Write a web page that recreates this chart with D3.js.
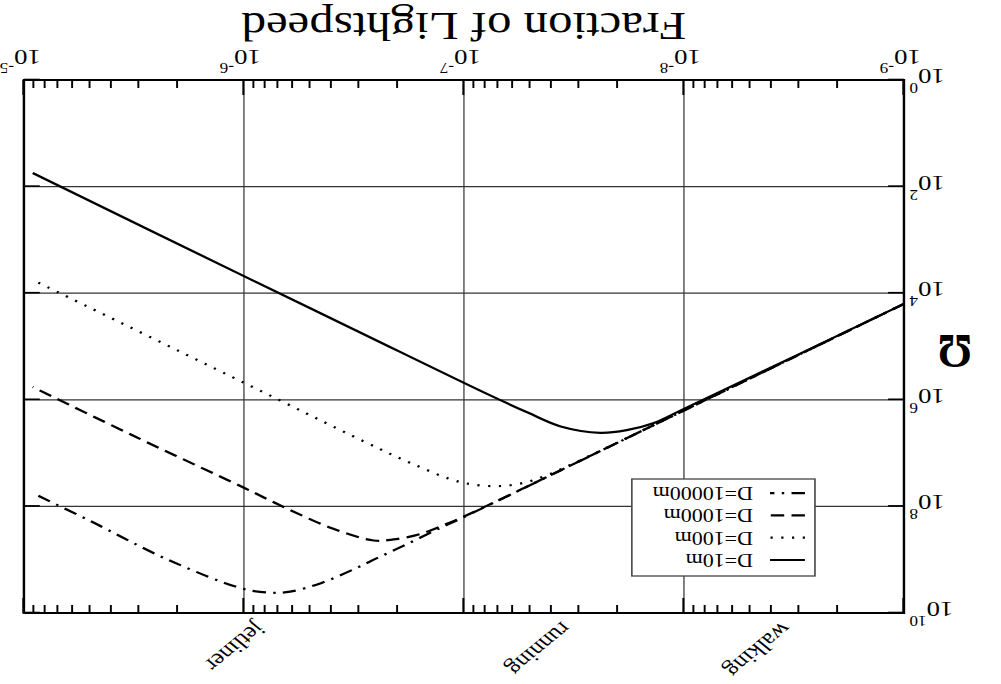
<!DOCTYPE html>
<html>
<head>
<meta charset="utf-8">
<script src="https://cdn.jsdelivr.net/npm/d3@7"></script>
<style>
  body { margin: 0; background: #fff; }
  text { font-family: "Liberation Serif", "Times New Roman", serif; fill: #000; }
</style>
</head>
<body>
<script>
// the reference is stretched sideways (~1.22) and turned upside down,
// so draw in an 820 wide box, stretch with the viewBox and rotate 180
var W = 820, H = 684;

// axis ticks
var speedExp = [-9, -8, -7, -6, -5];
var omegaExp = [0, 2, 4, 6, 8, 10];

// markers on the top axis (fraction of lightspeed)
var places = ["walking", "running", "jetliner"];
var placeSpeeds = [3.6e-9, 3.6e-8, 8.9e-7];

var seriesNames = ["D=10m", "D=100m", "D=1000m", "D=10000m"];
var seriesDash = ["", "1.8,7", "11,6", "11,6,2,6"];

// curves, in decades: log10(v/c) and log10(Omega)
var logV10 = [-9, -8.5, -8.0, -7.86, -7.74, -7.62, -7.44, -7.29, -7.1, -6.5, -6.0, -5.04];
var logW10 = [4.2, 5.19, 6.17, 6.44, 6.57, 6.62, 6.5, 6.24, 5.88, 4.68, 3.68, 1.745];

var logV100 = [-9, -8.5, -8, -7.5, -7.38, -7.27, -7.14, -6.98, -6.76, -6.55, -6.0, -5.04];
var logW100 = [4.2, 5.2, 6.2, 7.19, 7.41, 7.56, 7.62, 7.54, 7.19, 6.79, 5.68, 3.75];

var logV1000 = [-9, -8, -7.0, -6.92, -6.8, -6.68, -6.59, -6.4, -6.18, -6.0, -5.5, -5.04];
var logW1000 = [4.2, 6.2, 8.19, 8.33, 8.52, 8.62, 8.64, 8.41, 8.01, 7.65, 6.68, 5.76];

var logV10000 = [-9, -8, -7, -6.89, -6.74, -6.6, -6.52, -6.35, -6.21, -6.13, -6.0, -5.66, -5.3, -5.04];
var logW10000 = [4.2, 6.2, 8.2, 8.41, 8.71, 8.98, 9.14, 9.44, 9.6, 9.62, 9.55, 9.01, 8.27, 7.75];

var seriesV = [logV10, logV100, logV1000, logV10000];
var seriesW = [logW10, logW100, logW1000, logW10000];

// plot box
var pLeft = 79.5, pRight = 800.4, pTop = 71, pBottom = 604;

var x = d3.scaleLog().domain([1e-9, 1e-5]).range([pLeft, pRight]);
var y = d3.scaleLog().domain([1, 1e10]).range([pBottom, pTop]);

var svg = d3.select("body").append("svg")
    .attr("width", 1001)
    .attr("height", H)
    .attr("viewBox", "0 0 " + W + " " + H)
    .attr("preserveAspectRatio", "none");

var g = svg.append("g")
    .attr("transform", "rotate(180 " + W / 2 + " " + H / 2 + ")");

var majorX = speedExp.map(function(e) { return Math.pow(10, e); });
var majorY = omegaExp.map(function(e) { return Math.pow(10, e); });
var minorX = [];
speedExp.slice(0, -1).forEach(function(e) {
  for (var k = 2; k <= 9; k++) minorX.push(k * Math.pow(10, e));
});

// grid
g.append("g").selectAll("line")
    .data(majorX.slice(1, -1))
  .enter().append("line")
    .attr("x1", function(d) { return x(d); })
    .attr("x2", function(d) { return x(d); })
    .attr("y1", pTop).attr("y2", pBottom)
    .attr("stroke", "#555").attr("stroke-width", 1.2);

g.append("g").selectAll("line")
    .data(majorY.slice(1, -1))
  .enter().append("line")
    .attr("y1", function(d) { return y(d); })
    .attr("y2", function(d) { return y(d); })
    .attr("x1", pLeft).attr("x2", pRight)
    .attr("stroke", "#333").attr("stroke-width", 1.2);

// curves
var line = d3.line()
    .x(function(d) { return x(d[0]); })
    .y(function(d) { return y(d[1]); })
    .curve(d3.curveCatmullRom);

seriesV.forEach(function(lv, i) {
  var pts = lv.map(function(v, j) { return [Math.pow(10, v), Math.pow(10, seriesW[i][j])]; });
  g.append("path")
      .datum(pts)
      .attr("d", line)
      .attr("fill", "none")
      .attr("stroke", "#000")
      .attr("stroke-width", 2.2)
      .attr("stroke-dasharray", seriesDash[i] || null);
});

// ticks, pointing inward on all four sides
function ticks(sel) {
  sel.select(".domain").remove();
  sel.selectAll("line").attr("stroke", "#000").attr("stroke-width", 1.6);
}
g.append("g").attr("transform", "translate(0," + pBottom + ")")
    .call(d3.axisBottom(x).tickValues(minorX).tickSize(-8).tickFormat("")).call(ticks);
g.append("g").attr("transform", "translate(0," + pTop + ")")
    .call(d3.axisTop(x).tickValues(minorX).tickSize(-8).tickFormat("")).call(ticks);
g.append("g").attr("transform", "translate(0," + pBottom + ")")
    .call(d3.axisBottom(x).tickValues(majorX).tickSize(-15).tickFormat("")).call(ticks);
g.append("g").attr("transform", "translate(0," + pTop + ")")
    .call(d3.axisTop(x).tickValues(majorX).tickSize(-15).tickFormat("")).call(ticks);
g.append("g").attr("transform", "translate(" + pLeft + ",0)")
    .call(d3.axisLeft(y).tickValues(majorY).tickSize(-13).tickFormat("")).call(ticks);
g.append("g").attr("transform", "translate(" + pRight + ",0)")
    .call(d3.axisRight(y).tickValues(majorY).tickSize(-13).tickFormat("")).call(ticks);

// frame
g.append("rect")
    .attr("x", pLeft).attr("y", pTop)
    .attr("width", pRight - pLeft).attr("height", pBottom - pTop)
    .attr("fill", "none").attr("stroke", "#000").attr("stroke-width", 2);

// tick labels with superscripts
g.append("g").selectAll("text")
    .data(speedExp)
  .enter().append("text")
    .attr("x", function(d) { return x(Math.pow(10, d)) + 3; })
    .attr("y", 634)
    .attr("text-anchor", "middle")
    .attr("font-size", 22)
    .each(function(d) {
      var t = d3.select(this);
      t.append("tspan").text("10");
      t.append("tspan").attr("dy", -13).attr("font-size", 14).text(d);
    });

g.append("g").selectAll("text")
    .data(omegaExp)
  .enter().append("text")
    .attr("x", 75)
    .attr("y", function(d) { return y(Math.pow(10, d)) + 11; })
    .attr("text-anchor", "end")
    .attr("font-size", 22)
    .each(function(d) {
      var t = d3.select(this);
      t.append("tspan").text("10");
      t.append("tspan").attr("dy", -14).attr("font-size", 14).text(d);
    });

// markers along the top
g.append("g").selectAll("text")
    .data(places)
  .enter().append("text")
    .attr("transform", function(d, i) {
      return "translate(" + x(placeSpeeds[i]) + ",63) rotate(-45)";
    })
    .attr("font-size", 21)
    .text(function(d) { return d; });

// axis titles
g.append("text")
    .attr("x", (pLeft + pRight) / 2).attr("y", 671)
    .attr("text-anchor", "middle")
    .attr("font-size", 40)
    .text("Fraction of Lightspeed");

g.append("text")
    .attr("transform", "translate(37.7,349) scale(0.72,1)")
    .attr("text-anchor", "middle")
    .attr("font-size", 48)
    .attr("font-weight", "bold")
    .text("\u03A9");

// legend
var lg = g.append("g");
lg.append("rect")
    .attr("x", 152.4).attr("y", 108)
    .attr("width", 150).attr("height", 97)
    .attr("fill", "#fff").attr("stroke", "#444").attr("stroke-width", 1.3);

seriesNames.forEach(function(name, i) {
  var ry = 124 + i * 22.3;
  lg.append("line")
      .attr("x1", 160.6).attr("x2", 189.2)
      .attr("y1", ry).attr("y2", ry)
      .attr("stroke", "#000").attr("stroke-width", 2.2)
      .attr("stroke-dasharray", seriesDash[i] || null);
  lg.append("text")
      .attr("x", 203.2).attr("y", ry + 6)
      .attr("font-size", 18)
      .text(name);
});
</script>
</body>
</html>
